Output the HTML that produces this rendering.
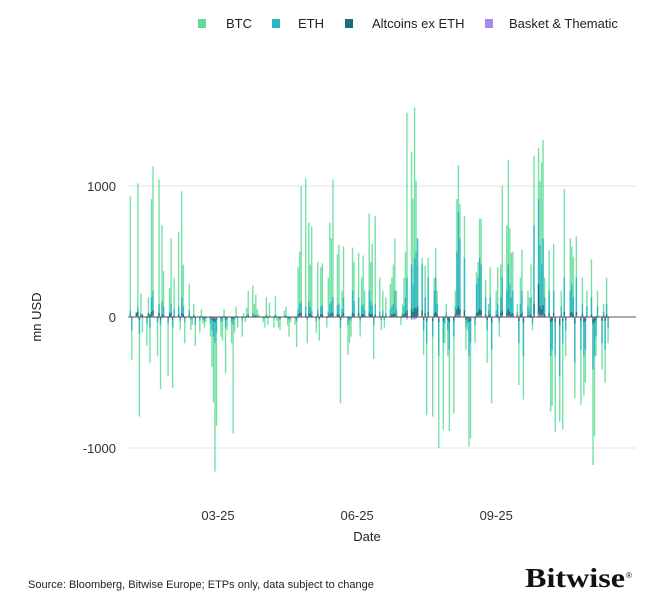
<!DOCTYPE html>
<html><head><meta charset="utf-8"><style>
body{margin:0;background:#fff;font-family:"Liberation Sans",sans-serif;}
</style></head><body>
<svg width="671" height="610" viewBox="0 0 671 610" xmlns="http://www.w3.org/2000/svg">
<g font-size="13" fill="#222">
<rect x="198" y="19" width="8" height="9" fill="#5edc98"/><text x="226" y="28">BTC</text>
<rect x="272" y="19" width="8" height="9" fill="#2bb5c2"/><text x="298" y="28">ETH</text>
<rect x="345" y="19" width="8" height="9" fill="#1f6b76"/><text x="372" y="28">Altcoins ex ETH</text>
<rect x="485" y="19" width="8" height="9" fill="#a78be8"/><text x="509" y="28">Basket &amp; Thematic</text>
</g>
<g id="grid"></g>
<g id="bars"></g>
<g id="axes" font-size="13" fill="#333"></g>
<text x="367" y="541" text-anchor="middle" font-size="13" fill="#222">Date</text>
<text transform="translate(41,317) rotate(-90)" text-anchor="middle" font-size="13" fill="#222">mn USD</text>
<text x="28" y="588" font-size="11" fill="#222">Source: Bloomberg, Bitwise Europe; ETPs only, data subject to change</text>
<text x="525" y="587" font-size="27" font-family="Liberation Serif,serif" font-weight="bold" fill="#111" textLength="100" lengthAdjust="spacingAndGlyphs">Bitwise</text>
<text x="626" y="578" font-size="8" font-family="Liberation Sans,sans-serif" fill="#111">®</text>
</svg>
<script>
const btc=[920,-330,40,1020,-760,180,-120,-220,150,-350,900,1150,-300,1050,-550,700,350,-450,220,600,-540,300,
650,-100,960,400,-200,250,-100,-60,100,-220,-120,60,-50,-80,-40,-150,-380,-650,-1180,-830,
-150,-180,60,-430,-100,-200,-890,-120,80,-80,-150,30,-40,70,200,240,100,170,60,20,-40,
-80,150,-60,110,-80,160,-30,-80,-100,50,80,-60,-150,-40,-60,-230,380,500,1000,1060,-200,720,
400,690,-120,420,-180,380,410,-80,300,720,600,1050,480,550,-660,200,540,-290,-200,-150,530,420,
490,-150,300,470,200,790,420,560,-320,770,300,-100,200,-80,150,250,300,400,600,200,-60,
100,300,500,1560,1260,900,1600,1040,390,450,-290,390,-750,450,-760,300,525,200,-1000,-860,-200,100,-300,
-870,-735,200,900,1160,860,770,-250,-100,-990,-925,-200,340,420,750,750,280,-350,100,380,-660,
200,380,-150,400,1000,700,1200,680,490,500,100,-520,300,515,-630,200,150,400,-100,1230,1290,1040,
1180,1350,300,510,-720,-680,560,-875,-800,200,-860,980,-300,600,540,460,-620,615,-670,300,-600,-500,200,
440,-1130,-910,-300,200,-400,100,-500,300,-200];
const eth=[50,-100,0,80,-130,30,0,-50,20,-80,150,200,-40,100,-60,120,80,-50,40,100,-80,60,
80,-30,150,80,-40,50,-20,-10,20,-60,-30,10,-20,-30,-10,-50,-100,-150,-200,-120,
-40,-30,10,-80,-20,-40,-60,-20,10,-10,-30,0,-10,10,20,30,10,20,10,0,-10,
-10,20,-10,10,-10,20,0,-10,-20,10,10,-10,-20,-10,-10,-30,60,100,120,80,-20,120,
80,50,-30,60,-20,80,90,-10,40,100,120,150,90,100,-80,60,150,-60,-30,-20,200,120,
150,-30,80,100,50,200,120,90,-60,100,40,-20,50,-20,30,60,80,100,200,60,-10,
30,80,150,300,400,250,450,500,600,400,-100,150,-200,300,-150,200,300,100,-300,-200,-50,40,-100,
-250,-150,80,500,800,600,450,-80,-50,-300,-200,-60,250,300,450,400,150,-100,50,150,-250,
50,100,-40,150,300,200,400,250,150,200,40,-200,100,200,-300,80,50,150,-50,700,900,550,
400,600,150,200,-300,-250,200,-300,-450,80,-200,300,-100,200,250,150,-350,300,-250,100,-300,-250,80,
150,-400,-300,-150,80,-200,40,-250,100,-80];
const alt=[20,-10,30,40,-20,10,20,-10,30,20,40,50,-10,30,-20,20,10,-10,20,30,-20,10,
20,-10,30,20,-10,10,-5,-5,10,-10,-5,5,-5,-10,-5,-10,-20,-30,-40,-20,
-10,-5,5,-20,-5,-10,-15,-5,5,-5,-10,0,-5,5,10,10,5,10,5,0,-5,
-5,10,-5,5,-5,10,0,-5,-10,5,5,-5,-10,-5,-5,-10,20,30,30,20,-10,30,
20,10,-10,20,-10,20,20,-5,10,20,30,30,20,20,-20,10,30,-10,-10,-5,30,20,
30,-10,20,20,10,30,20,20,-10,20,10,-5,10,-5,10,10,20,20,30,10,-5,
10,20,30,50,60,40,70,60,80,50,-20,30,-30,40,-30,30,40,20,-40,-30,-10,10,-20,
-40,-30,20,60,80,60,50,-20,-10,-40,-30,-10,30,40,60,50,20,-20,10,20,-40,
10,20,-10,30,50,30,60,40,20,30,10,-30,20,30,-40,10,10,20,-10,100,250,80,
60,90,20,30,-40,-30,30,-40,-60,10,-30,40,-20,30,40,20,-50,40,-30,20,-40,-30,10,
20,-50,-40,-20,10,-30,10,-30,20,-10];
const basket=[10,0,5,10,-5,5,0,0,5,-5,10,15,0,10,-5,5,5,0,5,10,-5,5,
5,0,10,5,0,5,0,0,5,-5,0,0,0,-5,0,-5,-10,-10,-15,-10,
0,0,0,-5,0,-5,-5,0,0,0,-5,0,0,0,5,5,0,5,0,0,0,
0,5,0,0,0,5,0,0,-5,0,0,0,-5,0,0,-5,5,10,10,5,0,10,
5,5,0,5,0,5,5,0,5,10,10,10,5,5,-5,5,10,-5,-5,0,10,5,
10,0,5,5,5,10,5,5,-5,5,5,0,5,0,5,5,5,5,10,5,0,
5,5,10,-20,-25,-15,-20,-15,10,10,-5,10,-10,10,-10,5,10,5,-10,-10,-5,5,-5,
-10,-5,5,15,20,15,10,-5,0,-10,-10,0,10,10,15,15,5,-5,5,5,-10,
5,5,0,10,15,10,15,10,5,5,5,-10,5,10,-10,5,5,5,0,20,25,15,
15,20,5,10,-10,-10,10,-10,-15,5,-10,10,-5,10,10,5,-10,10,-10,5,-10,-10,5,
5,-15,-10,-5,5,-5,5,-5,5,0];
const tickDates=["2025-03-01","2025-06-01","2025-09-01"];
const tickLabels=["03-25","06-25","09-25"];
const yTicks=[1000,0,-1000];

const NS="http://www.w3.org/2000/svg";
const X0=218, T0=Date.UTC(2025,2,1), PXD=1.512;
function xScale(d){return X0+(d-T0)/86400000*PXD;}
function yScale(v){return 317-v*0.131;}
const dates=[];let t=Date.UTC(2025,0,2);
while(dates.length<btc.length){const wd=new Date(t).getUTCDay();if(wd!==0&&wd!==6)dates.push(t);t+=86400000;}
function mk(tag,attrs,parent){const e=document.createElementNS(NS,tag);for(const k in attrs)e.setAttribute(k,attrs[k]);parent.appendChild(e);return e;}
const grid=document.getElementById('grid'),bars=document.getElementById('bars'),axes=document.getElementById('axes');
yTicks.forEach(v=>{
  if(v!==0){const l=mk('line',{x1:128,x2:636,y1:yScale(v),y2:yScale(v),stroke:'#e3e3e3','stroke-width':1},grid);
  
  }
  const tx=mk('text',{x:116,y:yScale(v)+5,'text-anchor':'end'},axes);tx.textContent=v;
  
  
});
tickDates.forEach((d,i)=>{
  const tx=mk('text',{x:xScale(Date.parse(d)),y:520,'text-anchor':'middle'},axes);tx.textContent=tickLabels[i];
  
  
});
const series=[[btc,'#5edc98',0.85,'bar-btc'],[eth,'#2bb5c2',0.9,'bar-eth'],[alt,'#1f6b76',0.9,'bar-alt'],[basket,'#a78be8',0.9,'bar-basket']];
series.forEach(([arr,col,op,name])=>{
  arr.forEach((v,i)=>{
    const x=xScale(dates[i]);const y=yScale(Math.max(v,0));const h=Math.abs(yScale(v)-yScale(0));
    const r=mk('rect',{x:x-0.7,y:y,width:1.4,height:Math.max(h,0.3),fill:col,'fill-opacity':op},bars);
    
    
  });
});
const z=mk('line',{x1:128,x2:636,y1:317,y2:317,stroke:'#555','stroke-width':1},bars);


</script>
</body></html>
